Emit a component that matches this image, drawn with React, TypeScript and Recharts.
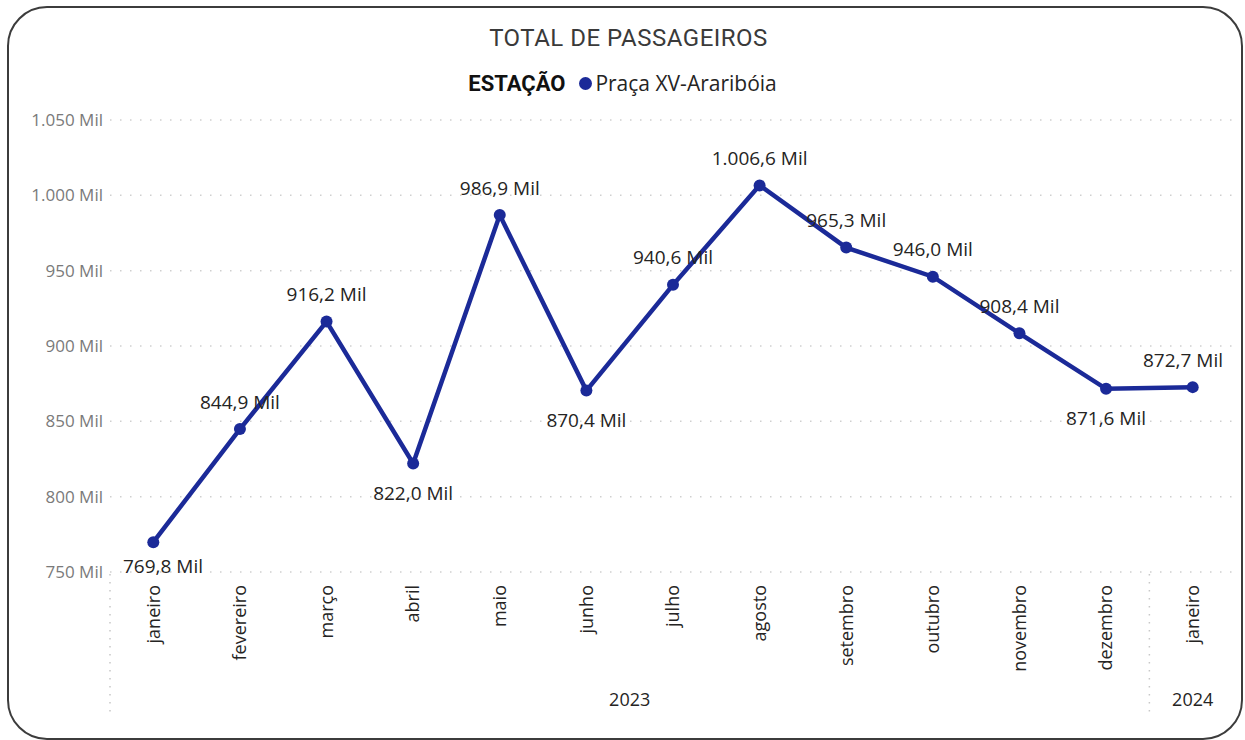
import React from "react";
import { LineChart, Line, XAxis, YAxis, CartesianGrid, LabelList } from "recharts";

const months = ["janeiro","fevereiro","março","abril","maio","junho","julho","agosto","setembro","outubro","novembro","dezembro","janeiro"];
const years = ["2023","2023","2023","2023","2023","2023","2023","2023","2023","2023","2023","2023","2024"];
const passengers = [769.8, 844.9, 916.2, 822.0, 986.9, 870.4, 940.6, 1006.6, 965.3, 946.0, 908.4, 871.6, 872.7]; // thousands
const yTicks = [750, 800, 850, 900, 950, 1000, 1050];
const seriesName = "Praça XV-Araribóia";
const legendTitle = "ESTAÇÃO";
const chartTitle = "TOTAL DE PASSAGEIROS";

const data = months.map((m, i) => ({ i, month: m, year: years[i], value: passengers[i] }));

const W = 1245, H = 740;
const Y_AXIS_W = 110;
const MARGIN = { top: 120, right: 9, bottom: 38, left: 0 };
const X_AXIS_H = 130;
const PLOT_LEFT = MARGIN.left + Y_AXIS_W;
const PLOT_RIGHT = W - MARGIN.right;
const PLOT_BOTTOM = H - MARGIN.bottom - X_AXIS_H;
const BAND = (PLOT_RIGHT - PLOT_LEFT) / data.length;

const LINE_COLOR = "#1b2a98";
const FONT = "'Open Sans', 'Noto Sans', sans-serif";

const thousands = (n: number) => {
  const s = String(Math.floor(n));
  return s.replace(/\B(?=(\d{3})+(?!\d))/g, ".");
};
const fmtTick = (v: number) => `${thousands(v)} Mil`;
const fmtLabel = (v: number) => {
  const fixed = v.toFixed(1);
  const [ip, dp] = fixed.split(".");
  return `${thousands(Number(ip))},${dp} Mil`;
};

const MonthTick = (props: any) => {
  const { x, y, payload } = props;
  const idx = Number(payload.value);
  const ty = y + 13;
  const els: React.ReactNode[] = [];
  els.push(
    <text key="m" x={x} y={ty} dy="0.35em" textAnchor="end" transform={`rotate(-90, ${x}, ${ty})`}
      fill="#252423" fontSize={18} fontFamily={FONT}>{months[idx]}</text>
  );
  const yr = years[idx];
  if (idx === 0 || years[idx - 1] !== yr) {
    let count = 0;
    for (let k = idx; k < years.length && years[k] === yr; k++) count++;
    const sx = x - BAND / 2;
    els.push(<line key="s" x1={sx} x2={sx} y1={y + 2} y2={y + 143} stroke="#c8c8c8" strokeWidth={1.5} strokeDasharray="1.5 6.5" />);
    els.push(
      <text key="y" x={sx + (count * BAND) / 2} y={y + 128} dy="0.35em" textAnchor="middle"
        fill="#252423" fontSize={18} fontFamily={FONT}>{yr}</text>
    );
  }
  return <g>{els}</g>;
};

const DataLabel = (props: any) => {
  const { x, y, index } = props;
  const v = passengers[index];
  const prev = index > 0 ? passengers[index - 1] : Infinity;
  const next = index < passengers.length - 1 ? passengers[index + 1] : Infinity;
  const below = v < prev && v < next;
  let cy = below ? y + 30 : y - 27;
  if (cy > PLOT_BOTTOM - 6) cy = PLOT_BOTTOM - 6;
  let cx = Math.min(Math.max(x, PLOT_LEFT + 53), PLOT_RIGHT - 53);
  return (
    <text x={cx} y={cy} dy="0.35em" textAnchor="middle" fill="#252423" fontSize={19} fontFamily={FONT}>
      {fmtLabel(v)}
    </text>
  );
};

export default function App() {
  return (
    <div style={{ position: "absolute", left: 0, top: 0, width: W, height: H, background: "#fff", overflow: "hidden" }}>
      <div style={{ position: "absolute", left: 7, top: 6, width: 1236, height: 734, border: "2px solid #3c3c3c", borderRadius: 40, boxSizing: "border-box" }} />
      <div style={{ position: "absolute", left: 6, top: 23, width: W, textAlign: "center", fontFamily: "Roboto, sans-serif", fontSize: 24, color: "#3a3a3a", letterSpacing: 0.5, lineHeight: "30px" }}>
        {chartTitle}
      </div>
      <div style={{ position: "absolute", left: 0, top: 68, width: W, height: 30, display: "flex", justifyContent: "center", alignItems: "center", fontFamily: FONT, color: "#252423" }}>
        <span style={{ fontFamily: "Roboto, sans-serif", fontWeight: 700, fontSize: 22, color: "#111", marginRight: 14 }}>{legendTitle}</span>
        <span style={{ display: "inline-block", width: 13, height: 13, borderRadius: "50%", background: LINE_COLOR, marginRight: 3 }} />
        <span style={{ fontSize: 21 }}>{seriesName}</span>
      </div>
      <div style={{ position: "absolute", left: 0, top: 0 }}>
        <LineChart width={W} height={H} data={data} margin={MARGIN}>
          <CartesianGrid vertical={false} stroke="#cfcfcf" strokeWidth={1.5} strokeDasharray="1.5 8.5" />
          <XAxis dataKey="i" type="category" interval={0} height={X_AXIS_H} tickLine={false} axisLine={false}
            tickSize={0} tickMargin={0} tick={<MonthTick />} padding={{ left: BAND / 2, right: BAND / 2 }} />
          <YAxis width={Y_AXIS_W} domain={[750, 1050]} ticks={yTicks} tickFormatter={fmtTick} axisLine={false}
            tickLine={false} tickSize={0} tickMargin={7} interval={0}
            tick={{ fill: "#7a7a7a", fontSize: 17, fontFamily: FONT }} />
          <Line type="linear" dataKey="value" name={seriesName} stroke={LINE_COLOR} strokeWidth={4.5}
            dot={{ r: 6, fill: LINE_COLOR, stroke: LINE_COLOR, strokeWidth: 0 }} activeDot={false} isAnimationActive={false}>
            <LabelList dataKey="value" content={<DataLabel />} />
          </Line>
        </LineChart>
      </div>
    </div>
  );
}
